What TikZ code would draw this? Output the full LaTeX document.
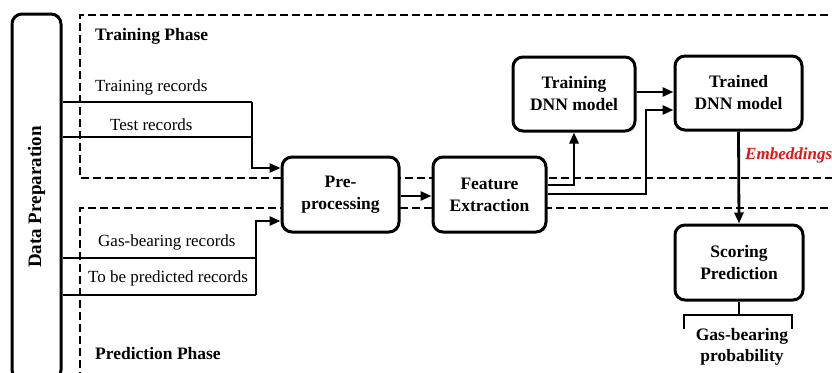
\documentclass[tikz,border=0pt]{standalone}
\usepackage{fontspec}
\setmainfont{Liberation Serif}
\usetikzlibrary{arrows.meta}
\definecolor{embred}{RGB}{230,20,20}
\begin{document}
\begin{tikzpicture}[x=1pt,y=-1pt,
  box/.style={draw,line width=3pt,rounded corners=10pt,fill=white,align=center,
    font=\fontsize{17.5}{22}\selectfont\bfseries,inner sep=0pt},
  wire/.style={line width=2.8pt},
  conn/.style={line width=2.8pt,-{Triangle[length=11pt,width=9pt]}},
  phase/.style={line width=2pt,dash pattern=on 8pt off 4pt},
  lbl/.style={font=\fontsize{17}{21}\selectfont,inner sep=0pt},
  blbl/.style={font=\fontsize{17.5}{21}\selectfont\bfseries,inner sep=0pt,align=center}]
\useasboundingbox (0,0) rectangle (832,372);
\clip (0,0) rectangle (832,372);
% phases
\draw[phase] (840,15) -- (80,15) -- (80,178) -- (840,178);
\draw[phase] (840,208) -- (80,208) -- (80,380);
\node[blbl,anchor=west] (tp) at (95,36) {Training Phase};
\node[blbl,anchor=west] (pp) at (95,354) {Prediction Phase};
% data preparation
\node[box,minimum width=49pt,minimum height=366pt] (dp) at (36.5,197) {};
\node[font=\fontsize{19}{22}\selectfont\bfseries,rotate=90,inner sep=0pt] (dpt) at (dp.center) {Data Preparation};
% boxes
\node[box,minimum width=117pt,minimum height=75pt] (pre) at (340.5,194.5) {Pre-\\processing};
\node[box,minimum width=113pt,minimum height=75pt] (fe) at (489.5,194.5) {Feature\\Extraction};
\node[box,minimum width=122pt,minimum height=74pt] (tdnn) at (574,94) {Training\\DNN model};
\node[box,minimum width=127pt,minimum height=74pt] (trained) at (738.5,93) {Trained\\DNN model};
\node[box,minimum width=128pt,minimum height=75pt] (score) at (739,262.5) {Scoring\\Prediction};
% labels
\node[lbl,anchor=west] (l1) at (95,87) {Training records};
\node[lbl,anchor=west] (l2) at (110,125) {Test records};
\node[lbl,anchor=west] (l3) at (98,242) {Gas-bearing records};
\node[lbl,anchor=west] (l4) at (88,278) {To be predicted records};
% input wires
\coordinate (j1) at (252,102);
\coordinate (j2) at (256,295);
\draw[wire] (dp.east |- j1) -- (j1);
\draw[wire] (dp.east |- 0,137) -- (252,137);
\draw[conn] (j1) -- (252,168) -- (pre.west |- 0,168);
\draw[wire] (dp.east |- 0,258) -- (256,258);
\draw[wire] (dp.east |- j2) -- (j2);
\draw[conn] (j2) -- (256,221) -- (pre.west |- 0,221);
% main flow
\draw[conn] (pre.east |- 0,196) -- (fe.west |- 0,196);
\draw[conn] (fe.east |- 0,185) -- (574,185) -- (tdnn.south);
\draw[conn] (fe.east |- 0,194) -- (646,194) -- (646,110) -- (trained.west |- 0,110);
\draw[conn] (tdnn.east |- 0,92) -- (trained.west |- 0,92);
\draw[conn] (trained.south) -- (score.north);
\node[font=\fontsize{17}{21}\selectfont\bfseries\itshape,text=embred,anchor=west,inner sep=0pt] (emb) at (745,155) {Embeddings};
% output brace
\coordinate (bt) at (739,315);
\draw[wire] (score.south) -- (bt);
\draw[wire] (684,329) -- (684,315) -- (792,315) -- (792,329);
\node[blbl] (gbp) at (742,347) {Gas-bearing\\probability};
\end{tikzpicture}
\end{document}
